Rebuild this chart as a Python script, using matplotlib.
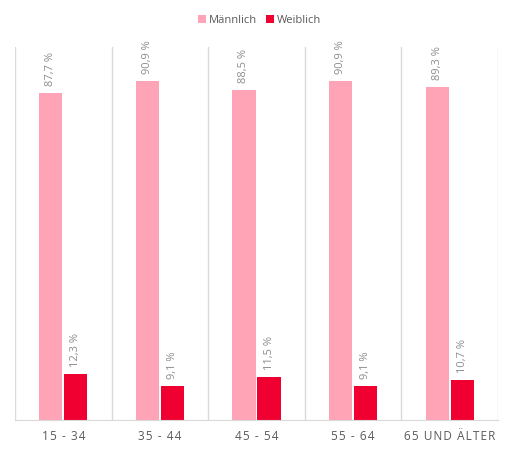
import matplotlib.pyplot as plt
import numpy as np

plt.rcParams['font.family'] = ['Open Sans', 'DejaVu Sans']

categories = ['15 - 34', '35 - 44', '45 - 54', '55 - 64', '65 UND ÄLTER']
maennlich = [87.7, 90.9, 88.5, 90.9, 89.3]
weiblich = [12.3, 9.1, 11.5, 9.1, 10.7]
labels_m = ['87,7 %', '90,9 %', '88,5 %', '90,9 %', '89,3 %']
labels_w = ['12,3 %', '9,1 %', '11,5 %', '9,1 %', '10,7 %']

fig = plt.figure(figsize=(5.13, 4.5), dpi=100)
ax = fig.add_axes([15 / 513, 30 / 450, 483 / 513, 373 / 450])

x = np.arange(len(categories))
w = 0.24
gap = 0.01
b1 = ax.bar(x - w / 2 - gap, maennlich, w, color='#FFA3B6', label='Männlich')
b2 = ax.bar(x + w / 2 + gap, weiblich, w, color='#F00030', label='Weiblich')

for bars, labs in ((b1, labels_m), (b2, labels_w)):
    for rect, lab in zip(bars, labs):
        ax.annotate(lab, (rect.get_x() + rect.get_width() / 2, rect.get_height()),
                    xytext=(0, 5), textcoords='offset points', rotation=90,
                    ha='center', va='bottom', fontsize=8, color='#8C8C8C')

ax.set_xlim(-0.5, len(categories) - 0.5)
ax.set_ylim(0, 100)
for b in np.arange(-0.5, len(categories), 1):
    ax.axvline(b, color='#D9D9D9', lw=1, zorder=0)

# tick labels are letter-spaced in the original
spaced = ['\u200a'.join(c) for c in categories]
ax.set_xticks(x)
ax.set_xticklabels(spaced, fontsize=8.5, color='#595959')
ax.tick_params(axis='x', length=0, pad=7)
ax.set_yticks([])
for s in ['top', 'left', 'right']:
    ax.spines[s].set_visible(False)
ax.spines['bottom'].set_color('#D9D9D9')

fig.legend(handles=[b1, b2], loc='center', bbox_to_anchor=(0.506, 0.955), ncol=2,
           frameon=False, fontsize=8, handlelength=0.7, handleheight=0.7,
           handletextpad=0.3, columnspacing=0.8, labelcolor='#595959')

fig.savefig('out.png', dpi=100)
